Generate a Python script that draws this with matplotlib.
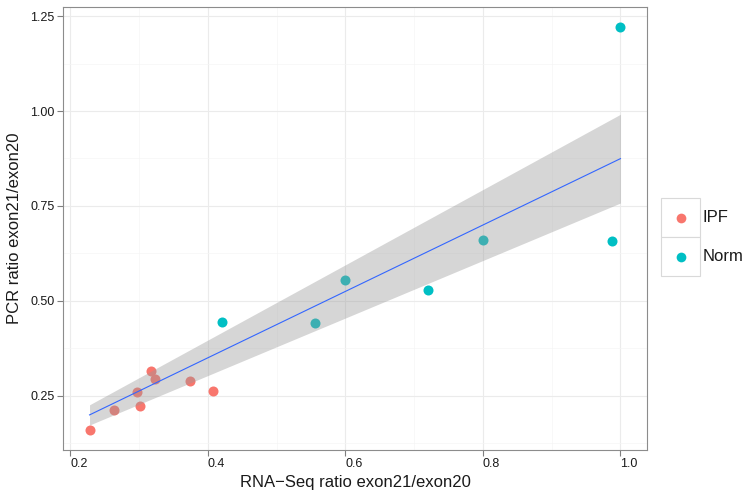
import matplotlib
matplotlib.use("Agg")
import matplotlib.pyplot as plt
import numpy as np
from matplotlib.lines import Line2D
from matplotlib.patches import Rectangle

plt.rcParams["font.family"] = ["Liberation Sans", "DejaVu Sans"]

# values
groups = ["IPF", "Norm"]
colors = {"IPF": "#F8766D", "Norm": "#00BFC4"}
ipf_rna = [0.228, 0.264, 0.297, 0.302, 0.318, 0.323, 0.374, 0.407]
ipf_pcr = [0.160, 0.213, 0.261, 0.222, 0.314, 0.293, 0.289, 0.262]
norm_rna = [0.420, 0.556, 0.599, 0.720, 0.800, 0.988, 1.000]
norm_pcr = [0.444, 0.442, 0.556, 0.528, 0.660, 0.657, 1.221]
x_ticks = [0.2, 0.4, 0.6, 0.8, 1.0]
x_tick_labels = ["0.2", "0.4", "0.6", "0.8", "1.0"]
y_ticks = [0.25, 0.50, 0.75, 1.00, 1.25]
y_tick_labels = ["0.25", "0.50", "0.75", "1.00", "1.25"]

T_CRIT = 2.145  # t quantile 0.975, df = 14


def lm_origin_band(x, y, n_grid=80):
    # y ~ 0 + x, like geom_smooth(method="lm", formula=y ~ x - 1)
    x, y = np.asarray(x), np.asarray(y)
    n = len(x)
    b = np.sum(x * y) / np.sum(x ** 2)
    s = np.sqrt(np.sum((y - b * x) ** 2) / (n - 1))
    xg = np.linspace(x.min(), x.max(), n_grid)
    yg = b * xg
    se = s * xg / np.sqrt(np.sum(x ** 2))
    return xg, yg, yg - T_CRIT * se, yg + T_CRIT * se


W, H = 751, 496
fig = plt.figure(figsize=(W / 100, H / 100), dpi=100)
ax = fig.add_axes([63 / W, 1 - 450 / H, 584 / W, 443 / H])

ax.scatter(ipf_rna, ipf_pcr, s=52, color=colors["IPF"], linewidths=0, zorder=3)
ax.scatter(norm_rna, norm_pcr, s=52, color=colors["Norm"], linewidths=0, zorder=3)

xg, yg, lo, hi = lm_origin_band(ipf_rna + norm_rna, ipf_pcr + norm_pcr)
ax.fill_between(xg, lo, hi, color="#999999", alpha=0.4, linewidth=0, zorder=4)
ax.plot(xg, yg, color="#3366FF", linewidth=0.8, zorder=5)

ax.set_xticks(x_ticks)
ax.set_xticklabels(x_tick_labels, ha="left")
ax.set_yticks(y_ticks)
ax.set_yticklabels(y_tick_labels)
ax.set_xticks(np.arange(0.1, 1.15, 0.1), minor=True)
ax.set_yticks(np.arange(0.125, 1.3, 0.125), minor=True)

all_x = np.array(ipf_rna + norm_rna)
all_y = np.array(ipf_pcr + norm_pcr)
xr = all_x.max() - all_x.min()
yr = all_y.max() - all_y.min()
ax.set_xlim(all_x.min() - 0.05 * xr, all_x.max() + 0.05 * xr)
ax.set_ylim(all_y.min() - 0.05 * yr, all_y.max() + 0.05 * yr)

ax.tick_params(which="major", length=4, width=0.8, color="#7f7f7f", labelsize=9, labelcolor="#1a1a1a", pad=2)
ax.tick_params(which="minor", length=0)
ax.grid(which="major", color="#ebebeb", linewidth=0.8)
ax.grid(which="minor", color="#f5f5f5", linewidth=0.5)
ax.set_axisbelow(True)
for sp in ax.spines.values():
    sp.set_color("#8c8c8c")
    sp.set_linewidth(0.8)

ax.set_xlabel("RNA\u2212Seq ratio exon21/exon20", fontsize=12, color="#1a1a1a", labelpad=3)
ax.set_ylabel("PCR ratio exon21/exon20", fontsize=12, color="#1a1a1a", labelpad=6)

# legend with boxed keys, placed right of the panel
key = 39
for i, g in enumerate(groups):
    top = 198 + i * key
    fig.add_artist(Rectangle((661 / W, 1 - (top + key) / H), key / W, key / H,
                             transform=fig.transFigure, facecolor="white",
                             edgecolor="#d9d9d9", linewidth=0.8))
    fig.add_artist(Line2D([680.5 / W], [1 - (top + key / 2) / H], transform=fig.transFigure,
                          marker="o", markersize=7, color=colors[g], markeredgewidth=0, linestyle=""))
    fig.text(703 / W, 1 - (top + key / 2) / H, g, fontsize=12, va="center", ha="left", color="#1a1a1a")

fig.savefig("out.png", dpi=100, facecolor="white")
